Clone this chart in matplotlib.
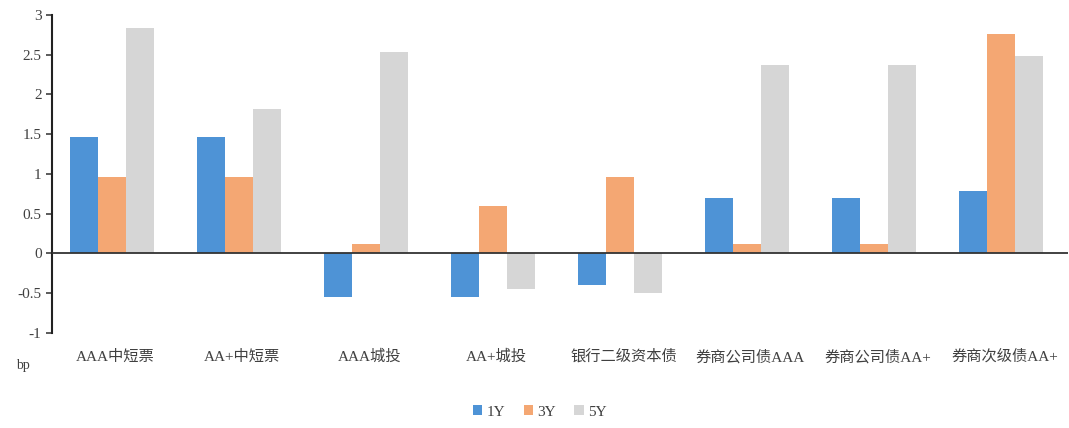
import matplotlib

matplotlib.use("Agg")
import matplotlib.pyplot as plt
import numpy as np

plt.rcParams["font.family"] = ["Liberation Serif", "Noto Sans CJK SC"]

categories = ["AAA中短票", "AA+中短票", "AAA城投", "AA+城投", "银行二级资本债",
              "券商公司债AAA", "券商公司债AA+", "券商次级债AA+"]
y1 = [1.46, 1.46, -0.55, -0.55, -0.40, 0.70, 0.70, 0.79]
y3 = [0.96, 0.96, 0.12, 0.60, 0.96, 0.12, 0.12, 2.76]
y5 = [2.83, 1.82, 2.54, -0.45, -0.50, 2.37, 2.37, 2.49]
series = ["1Y", "3Y", "5Y"]
colors = ["#4E93D6", "#F4A773", "#D6D6D6"]

fig = plt.figure(figsize=(10.69, 4.28), dpi=100)
ax = fig.add_axes([0.0486, 0.222, 0.9504, 0.743])

x = np.arange(len(categories))
w = 0.22
for k, (vals, name, c) in enumerate(zip([y1, y3, y5], series, colors)):
    ax.bar(x - 0.025 + (k - 1) * w, vals, width=w, color=c, label=name, zorder=2)

ax.axhline(0, color="#333333", lw=1.3, zorder=3)
ax.set_xlim(-0.5, len(categories) - 0.5)
ax.set_ylim(-1, 3)
ax.set_yticks([-1, -0.5, 0, 0.5, 1, 1.5, 2, 2.5, 3])
ax.set_yticklabels(["-1", "-0.5", "0", "0.5", "1", "1.5", "2", "2.5", "3"])
ax.set_xticks(x)
ax.set_xticklabels(categories)
ax.tick_params(axis="x", length=0, pad=12, labelsize=11, colors="#404040")
ax.tick_params(axis="y", length=4, width=1.2, labelsize=11, colors="#404040",
               direction="out")
for side in ["top", "right", "bottom"]:
    ax.spines[side].set_visible(False)
ax.spines["left"].set_linewidth(1.5)
ax.spines["left"].set_color("#222222")

fig.text(0.015, 0.147, "bp", fontsize=10, color="#404040", va="center")

fig.legend(loc="lower center", bbox_to_anchor=(0.505, -0.01), ncol=3, frameon=False,
           handlelength=0.6, handleheight=0.6, handletextpad=0.3, columnspacing=1.2,
           fontsize=11, labelcolor="#404040")

fig.savefig("out.png", dpi=100)
